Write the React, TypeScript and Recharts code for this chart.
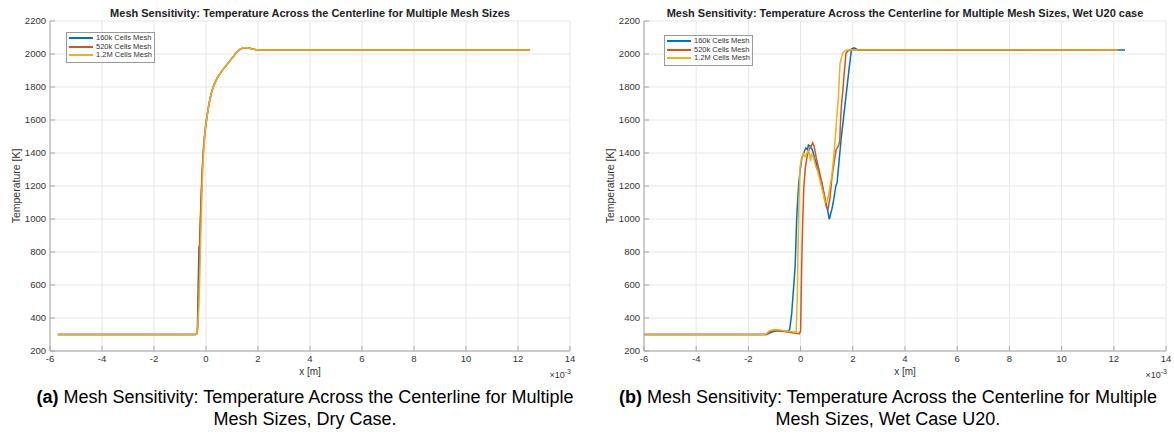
import {CartesianGrid, Legend, Line, LineChart, XAxis, YAxis} from 'recharts';

// x positions are in units of 1e-3 m (axis shows ×10^-3)
const xTicks = [-6, -4, -2, 0, 2, 4, 6, 8, 10, 12, 14];
const yTicks = [200, 400, 600, 800, 1000, 1200, 1400, 1600, 1800, 2000, 2200];

const seriesNames = ['160k Cells Mesh', '520k Cells Mesh', '1.2M Cells Mesh'];
const seriesColors = ['#0072BD', '#D95319', '#EDB120'];

// dry case
const dry160X = [-5.7, -0.4, -0.36, -0.33, -0.3, -0.27, -0.25, -0.22, -0.18, -0.14, -0.1, -0.06, -0.02, 0.04, 0.12, 0.2, 0.3, 0.45, 0.6, 0.8, 1.0, 1.15, 1.3, 1.45, 1.6, 1.75, 1.9, 2.1, 2.5, 4, 12.45];
const dry160T = [300, 300, 305, 330, 600, 830, 840, 960, 1150, 1300, 1410, 1490, 1550, 1620, 1700, 1760, 1810, 1860, 1895, 1935, 1975, 2005, 2028, 2038, 2038, 2032, 2027, 2025, 2025, 2025, 2025];

const dry520X = [-5.7, -0.4, -0.35, -0.31, -0.28, -0.25, -0.22, -0.18, -0.14, -0.1, -0.06, -0.02, 0.04, 0.12, 0.2, 0.3, 0.45, 0.6, 0.8, 1.0, 1.15, 1.3, 1.45, 1.6, 1.75, 1.9, 2.1, 2.5, 4, 12.45];
const dry520T = [300, 300, 304, 360, 560, 780, 980, 1160, 1310, 1420, 1500, 1560, 1630, 1700, 1760, 1810, 1860, 1895, 1935, 1975, 2005, 2028, 2038, 2038, 2032, 2027, 2025, 2025, 2025, 2025];

const dry12MX = [-5.7, -0.42, -0.36, -0.32, -0.28, -0.24, -0.2, -0.16, -0.12, -0.08, -0.04, 0.0, 0.06, 0.12, 0.2, 0.3, 0.45, 0.6, 0.8, 1.0, 1.15, 1.3, 1.45, 1.6, 1.75, 1.9, 2.1, 2.5, 4, 12.45];
const dry12MT = [300, 300, 305, 340, 450, 650, 900, 1130, 1320, 1440, 1530, 1580, 1640, 1700, 1760, 1810, 1860, 1895, 1935, 1975, 2005, 2028, 2038, 2038, 2032, 2027, 2025, 2025, 2025, 2025];

// wet U20 case
const wet160X = [-6, -1.3, -1.15, -1.0, -0.8, -0.6, -0.5, -0.42, -0.34, -0.3, -0.26, -0.21, -0.15, -0.11, -0.07, -0.02, 0.05, 0.12, 0.2, 0.26, 0.3, 0.35, 0.4, 0.45, 0.55, 0.6, 0.65, 0.75, 0.8, 0.85, 0.95, 1.05, 1.1, 1.15, 1.2, 1.25, 1.35, 1.4, 1.45, 1.55, 1.65, 1.75, 1.85, 1.95, 2.05, 2.2, 3, 12.43];
const wet160T = [300, 300, 312, 320, 322, 320, 318, 330, 428, 520, 600, 711, 1000, 1120, 1220, 1290, 1370, 1400, 1430, 1420, 1448, 1445, 1430, 1420, 1360, 1340, 1300, 1250, 1230, 1190, 1110, 1040, 998, 1030, 1060, 1100, 1200, 1220, 1310, 1480, 1620, 1760, 1900, 2030, 2038, 2025, 2025, 2025];

const wet520X = [-6, -1.3, -1.15, -1.0, -0.8, -0.6, -0.4, -0.2, -0.05, 0.0, 0.04, 0.08, 0.12, 0.18, 0.25, 0.32, 0.4, 0.46, 0.52, 0.6, 0.7, 0.8, 0.9, 0.98, 1.05, 1.12, 1.2, 1.28, 1.36, 1.44, 1.5, 1.53, 1.57, 1.62, 1.68, 1.74, 1.82, 1.9, 2.0, 3, 12.15];
const wet520T = [300, 300, 318, 325, 322, 318, 312, 308, 305, 320, 711, 980, 1180, 1310, 1380, 1420, 1440, 1462, 1440, 1370, 1300, 1230, 1150, 1080, 1060, 1120, 1250, 1340, 1420, 1440, 1470, 1600, 1700, 1780, 1900, 2005, 2020, 2024, 2025, 2025, 2025];

const wet12MX = [-6, -1.35, -1.2, -1.0, -0.8, -0.6, -0.4, -0.25, -0.17, -0.13, -0.1, -0.06, -0.02, 0.04, 0.1, 0.17, 0.24, 0.3, 0.35, 0.38, 0.42, 0.49, 0.56, 0.65, 0.74, 0.84, 0.93, 1.0, 1.06, 1.12, 1.19, 1.26, 1.32, 1.39, 1.45, 1.51, 1.61, 1.7, 1.8, 2.5, 12.15];
const wet12MT = [300, 300, 322, 330, 328, 322, 318, 315, 318, 500, 800, 1115, 1317, 1370, 1398, 1378, 1400, 1418, 1390, 1350, 1390, 1378, 1330, 1290, 1236, 1170, 1105, 1100, 1135, 1190, 1256, 1360, 1479, 1620, 1741, 1944, 2004, 2020, 2024, 2025, 2025];

const zip = (xs: number[], ts: number[]) => xs.map((x, i) => ({ x, t: ts[i] }));

const dryData = [zip(dry160X, dry160T), zip(dry520X, dry520T), zip(dry12MX, dry12MT)];
const wetData = [zip(wet160X, wet160T), zip(wet520X, wet520T), zip(wet12MX, wet12MT)];

const FONT = 'Arial, "Liberation Sans", Helvetica, sans-serif';
const AXIS = '#a6a6a6';
const TICK_TEXT = { fontSize: 9.5, fill: '#333', fontFamily: FONT };

function MeshLegend({ left, top }: { left: number; top: number }) {
  return (
    <div
      style={{
        position: 'absolute',
        left,
        top,
        border: '1px solid #9a9a9a',
        background: '#fff',
        padding: '1px 2px 2px 2px',
        fontFamily: FONT,
        fontSize: 7.5,
        color: '#333',
        lineHeight: '8.5px',
      }}
    >
      {seriesNames.map((name, i) => (
        <div key={name} style={{ display: 'flex', alignItems: 'center', whiteSpace: 'nowrap' }}>
          <span style={{ display: 'inline-block', width: 24, height: 2, background: seriesColors[i], marginRight: 3 }} />
          {name}
        </div>
      ))}
    </div>
  );
}

interface PanelProps {
  left: number;
  width: number;
  title: string;
  data: { x: number; t: number }[][];
  legendLeft: number;
  legendTop: number;
}

function Panel({ left, width, title, data, legendLeft, legendTop }: PanelProps) {
  const plotLeft = 50;
  const plotRight = width - 10;
  return (
    <div style={{ position: 'absolute', left, top: 0, width, height: 380 }}>
      <LineChart width={width} height={380} margin={{ top: 21, right: 10, bottom: 0, left: 0 }}>
        <CartesianGrid stroke="#e6e6e6" strokeWidth={1} horizontalValues={yTicks} verticalValues={xTicks} />
        <XAxis
          dataKey="x"
          type="number"
          domain={[-6, 14]}
          ticks={xTicks}
          allowDataOverflow
          height={29}
          stroke={AXIS}
          tickSize={-5}
          tickMargin={9}
          tick={TICK_TEXT}
        />
        <XAxis
          xAxisId="top"
          orientation="top"
          dataKey="x"
          type="number"
          domain={[-6, 14]}
          ticks={xTicks}
          allowDataOverflow
          height={0}
          stroke={AXIS}
          tickSize={-5}
          tick={false}
        />
        <YAxis
          type="number"
          domain={[200, 2200]}
          ticks={yTicks}
          allowDataOverflow
          width={50}
          stroke={AXIS}
          tickSize={-5}
          tickMargin={9}
          tick={TICK_TEXT}
        />
        <YAxis
          yAxisId="right"
          orientation="right"
          type="number"
          domain={[200, 2200]}
          ticks={yTicks}
          allowDataOverflow
          width={0}
          stroke={AXIS}
          tickSize={-5}
          tick={false}
        />
        <Legend
          content={() => <MeshLegend left={legendLeft} top={legendTop} />}
          wrapperStyle={{ left: 0, top: 0, width: 200 }}
        />
        {data.map((series, i) => (
          <Line
            key={seriesNames[i]}
            data={series}
            dataKey="t"
            name={seriesNames[i]}
            type="linear"
            stroke={seriesColors[i]}
            strokeWidth={1.5}
            dot={false}
            activeDot={false}
            isAnimationActive={false}
          />
        ))}
      </LineChart>
      <div
        style={{
          position: 'absolute',
          left: plotLeft - 60,
          width: plotRight - plotLeft + 120,
          top: 7,
          textAlign: 'center',
          fontFamily: FONT,
          fontWeight: 'bold',
          fontSize: 11,
          lineHeight: '12px',
          color: '#222',
          whiteSpace: 'nowrap',
        }}
      >
        {title}
      </div>
      <div
        style={{
          position: 'absolute',
          left: plotLeft,
          width: plotRight - plotLeft,
          top: 366,
          textAlign: 'center',
          fontFamily: FONT,
          fontSize: 10,
          lineHeight: '12px',
          color: '#333',
        }}
      >
        x [m]
      </div>
      <div
        style={{
          position: 'absolute',
          right: width - plotRight - 1,
          top: 366,
          fontFamily: FONT,
          fontSize: 9,
          lineHeight: '12px',
          color: '#333',
          whiteSpace: 'nowrap',
        }}
      >
        ×10<sup style={{ fontSize: 7 }}>-3</sup>
      </div>
      <div
        style={{
          position: 'absolute',
          left: 16 - 60,
          top: 186 - 6,
          width: 120,
          textAlign: 'center',
          transform: 'rotate(-90deg)',
          fontFamily: FONT,
          fontSize: 10.5,
          lineHeight: '12px',
          color: '#333',
        }}
      >
        Temperature [K]
      </div>
    </div>
  );
}

export default function App() {
  const caption = {
    position: 'absolute' as const,
    top: 386,
    width: 600,
    textAlign: 'center' as const,
    fontFamily: FONT,
    fontSize: 18,
    lineHeight: '22px',
    color: '#000',
  };
  return (
    <div style={{ position: 'absolute', left: 0, top: 0, width: 1174, height: 438, background: '#fff', overflow: 'hidden' }}>
      <Panel
        left={0}
        width={580}
        title="Mesh Sensitivity: Temperature Across the Centerline for Multiple Mesh Sizes"
        data={dryData}
        legendLeft={66}
        legendTop={32}
      />
      <Panel
        left={594}
        width={582}
        title="Mesh Sensitivity: Temperature Across the Centerline for Multiple Mesh Sizes, Wet U20 case"
        data={wetData}
        legendLeft={70}
        legendTop={35}
      />
      <div style={{ ...caption, left: 5 }}>
        <b>(a)</b> Mesh Sensitivity: Temperature Across the Centerline for Multiple
        <br />
        Mesh Sizes, Dry Case.
      </div>
      <div style={{ ...caption, left: 588 }}>
        <b>(b)</b> Mesh Sensitivity: Temperature Across the Centerline for Multiple
        <br />
        Mesh Sizes, Wet Case U20.
      </div>
    </div>
  );
}
